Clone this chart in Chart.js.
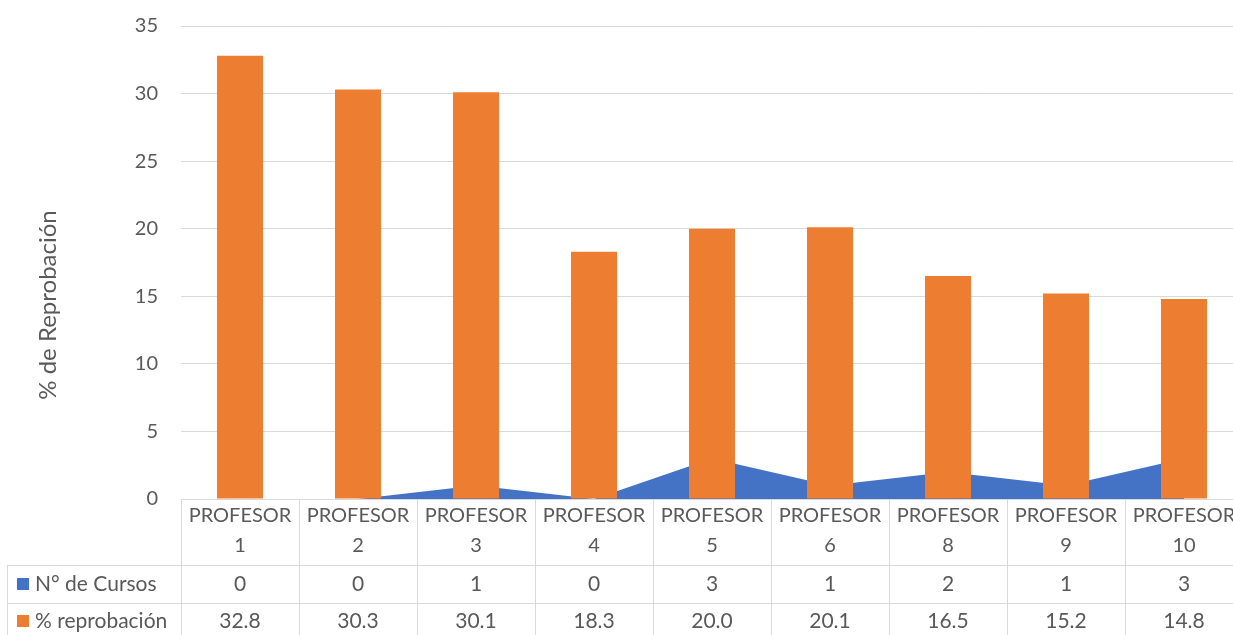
<!DOCTYPE html>
<html>
<head>
<meta charset="utf-8">
<script src="https://cdn.jsdelivr.net/npm/chart.js@4/dist/chart.umd.min.js"></script>
<style>
  html, body { margin: 0; padding: 0; background: #ffffff; overflow: hidden; }
  #wrap { position: relative; width: 1243px; height: 635px; }
</style>
</head>
<body>
<div id="wrap"><canvas id="chart"></canvas></div>
<script>
// Categorías (profesores) y series
const profesores = ['PROFESOR 1', 'PROFESOR 2', 'PROFESOR 3', 'PROFESOR 4', 'PROFESOR 5',
                    'PROFESOR 6', 'PROFESOR 8', 'PROFESOR 9', 'PROFESOR 10'];
const numCursos = [0, 0, 1, 0, 3, 1, 2, 1, 3];
const reprobacion = [32.8, 30.3, 30.1, 18.3, 20.0, 20.1, 16.5, 15.2, 14.8];
const serieNombres = ['N° de Cursos', '% reprobación'];
const yMax = 35;
const yPaso = 5;
const tituloY = '% de Reprobación';

const AZUL = '#4472C4';
const NARANJA = '#ED7D31';
const TEXTO = '#595959';
const LINEA = '#D9D9D9';
const FUENTE = 'Lato, "Open Sans", sans-serif';

// Tabla de datos bajo el eje X, con el título del eje Y
const tablaDatos = {
  id: 'tablaDatos',
  afterDraw(chart) {
    const ctx = chart.ctx;
    const x = chart.scales.x;
    const area = chart.chartArea;
    const n = profesores.length;
    const anchoCol = (x.getPixelForValue(1) - x.getPixelForValue(0));
    const fila1 = 565, fila2 = 603, fin = chart.height;
    const izq = 7;

    ctx.save();
    ctx.strokeStyle = LINEA;
    ctx.lineWidth = 1;
    ctx.beginPath();
    // líneas verticales entre columnas
    for (let i = 0; i <= n; i++) {
      const px = Math.round(x.getPixelForValue(0) - anchoCol / 2 + i * anchoCol) + 0.5;
      ctx.moveTo(px, area.bottom);
      ctx.lineTo(px, fin);
    }
    // borde izquierdo de la columna de series
    ctx.moveTo(izq + 0.5, fila1);
    ctx.lineTo(izq + 0.5, fin);
    // líneas horizontales
    ctx.moveTo(izq, fila1 + 0.5);
    ctx.lineTo(chart.width, fila1 + 0.5);
    ctx.moveTo(izq, fila2 + 0.5);
    ctx.lineTo(chart.width, fila2 + 0.5);
    ctx.stroke();

    // filas de valores
    ctx.font = '21px ' + FUENTE;
    ctx.fillStyle = TEXTO;
    ctx.textBaseline = 'middle';
    const filas = [
      { y: 584, color: AZUL, nombre: serieNombres[0], valores: numCursos.map(v => String(v)) },
      { y: 621, color: NARANJA, nombre: serieNombres[1], valores: reprobacion.map(v => v.toFixed(1)) }
    ];
    filas.forEach(f => {
      ctx.fillStyle = f.color;
      ctx.fillRect(17, f.y - 6, 12, 12);
      ctx.fillStyle = TEXTO;
      ctx.textAlign = 'left';
      ctx.fillText(f.nombre, 35, f.y);
      ctx.textAlign = 'center';
      f.valores.forEach((v, i) => {
        ctx.fillText(v, x.getPixelForValue(i), f.y);
      });
    });

    // título del eje Y
    ctx.font = '24px ' + FUENTE;
    ctx.translate(48, 305);
    ctx.rotate(-Math.PI / 2);
    ctx.textAlign = 'center';
    ctx.fillText(tituloY, 0, 0);
    ctx.restore();
  }
};

function sinRelleno(scale) {
  scale.paddingTop = 0;
  scale.paddingBottom = 0;
  scale.paddingLeft = 0;
  scale.paddingRight = 0;
}

new Chart(document.getElementById('chart'), {
  type: 'bar',
  data: {
    labels: profesores,
    datasets: [
      {
        type: 'bar',
        label: serieNombres[1],
        data: reprobacion,
        backgroundColor: NARANJA,
        borderWidth: 0,
        barPercentage: 0.39,
        categoryPercentage: 1,
        order: 1
      },
      {
        type: 'line',
        label: serieNombres[0],
        data: numCursos,
        backgroundColor: AZUL,
        borderColor: 'rgba(0,0,0,0)',
        borderWidth: 0,
        pointRadius: 0,
        tension: 0,
        fill: 'origin',
        order: 2
      }
    ]
  },
  options: {
    responsive: true,
    maintainAspectRatio: false,
    animation: false,
    devicePixelRatio: 1,
    layout: { autoPadding: false, padding: { top: 26, right: 0, left: 0, bottom: 0 } },
    plugins: {
      legend: { display: false },
      tooltip: { enabled: false }
    },
    scales: {
      x: {
        grid: { display: false, drawTicks: false },
        border: { display: true, color: LINEA, width: 1 },
        ticks: {
          color: TEXTO,
          font: { family: FUENTE, size: 20, lineHeight: 1.5 },
          padding: 2,
          autoSkip: false,
          maxRotation: 0,
          minRotation: 0,
          callback: function (value, index) {
            return profesores[index].split(' ');
          }
        },
        afterFit(scale) { scale.height = 136; sinRelleno(scale); }
      },
      y: {
        min: 0,
        max: yMax,
        grid: { color: LINEA, lineWidth: 1, drawTicks: false },
        border: { display: false },
        ticks: {
          stepSize: yPaso,
          color: TEXTO,
          font: { family: FUENTE, size: 20 },
          padding: 23
        },
        afterFit(scale) { scale.width = 181; sinRelleno(scale); }
      }
    }
  },
  plugins: [tablaDatos]
});
</script>
</body>
</html>
